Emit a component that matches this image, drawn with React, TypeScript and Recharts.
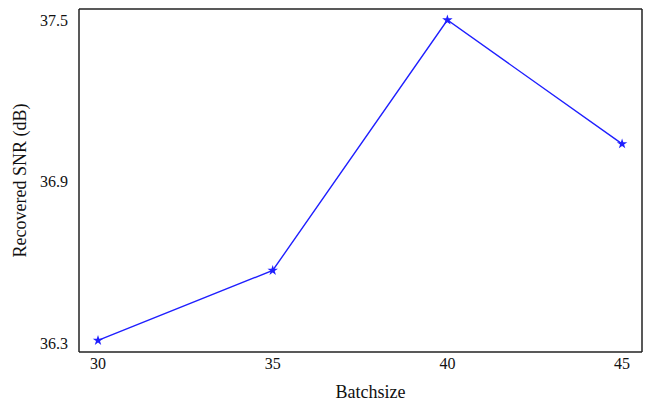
import { Line, LineChart, ReferenceLine, Symbols, XAxis, YAxis } from "recharts";

const batchSizes = [30, 35, 40, 45];
const snrValues = [36.31, 36.57, 37.5, 37.04];
const xTicks = [30, 35, 40, 45];
const yTicks = [36.3, 36.9, 37.5];

const data = batchSizes.map((b, i) => ({ batch: b, snr: snrValues[i] }));

const FONT = '"Liberation Serif", "Times New Roman", serif';
const BORDER = "#222";
const LINE = "#1f1fff";

const X_DOMAIN: [number, number] = [29.456, 45.57];
const Y_DOMAIN: [number, number] = [36.267, 37.541];

const textStyle = { fontFamily: FONT };

function StarDot(props: { cx?: number; cy?: number; index?: number }) {
  const { cx, cy, index } = props;
  if (cx == null || cy == null) return null;
  return <Symbols key={index} cx={cx} cy={cy} type="star" size={34} fill={LINE} stroke="none" />;
}

function XTick(props: { x?: number; y?: number; payload?: { value: number } }) {
  const { x = 0, y = 0, payload } = props;
  return (
    <text x={x} y={y} dy="0.75em" textAnchor="middle" style={textStyle} fontSize={16} fill="#111">
      {payload?.value}
    </text>
  );
}

function YTick(props: { x?: number; y?: number; payload?: { value: number } }) {
  const { x = 0, y = 0, payload } = props;
  return (
    <text x={x} y={y} textAnchor="end" dominantBaseline="central" style={textStyle} fontSize={16} fill="#111">
      {payload ? payload.value.toFixed(1) : ""}
    </text>
  );
}

function YTitle({ viewBox }: { viewBox?: { x: number; y: number; width: number; height: number } }) {
  if (!viewBox) return null;
  const x = 20;
  const y = viewBox.y + viewBox.height / 2;
  return (
    <text
      x={x}
      y={y}
      transform={`rotate(-90, ${x}, ${y})`}
      textAnchor="middle"
      dominantBaseline="central"
      style={textStyle}
      fontSize={18}
      fill="#111"
    >
      Recovered SNR (dB)
    </text>
  );
}

function XTitle({ viewBox }: { viewBox?: { x: number; y: number; width: number; height: number } }) {
  if (!viewBox) return null;
  return (
    <text
      x={viewBox.x + viewBox.width / 2 + 10}
      y={392}
      textAnchor="middle"
      dominantBaseline="central"
      style={textStyle}
      fontSize={18}
      fill="#111"
    >
      Batchsize
    </text>
  );
}

export default function App() {
  return (
    <div style={{ position: "absolute", top: 0, left: 0, background: "#fff", fontFamily: FONT }}>
      <LineChart width={646} height={404} data={data} margin={{ top: 9, right: 4, bottom: 0, left: 0 }}>
        <XAxis
          dataKey="batch"
          type="number"
          domain={X_DOMAIN}
          ticks={xTicks}
          allowDataOverflow
          height={52}
          tickLine={false}
          tickSize={0}
          tickMargin={5}
          axisLine={{ stroke: BORDER, strokeWidth: 1.5 }}
          tick={<XTick />}
          label={<XTitle />}
        />
        <YAxis
          type="number"
          domain={Y_DOMAIN}
          ticks={yTicks}
          allowDataOverflow
          width={79}
          tickLine={false}
          tickSize={0}
          tickMargin={11}
          axisLine={{ stroke: BORDER, strokeWidth: 1.5 }}
          tick={<YTick />}
          label={<YTitle />}
        />
        <ReferenceLine y={Y_DOMAIN[1]} stroke={BORDER} strokeWidth={1.5} ifOverflow="extendDomain" />
        <ReferenceLine x={X_DOMAIN[1]} stroke={BORDER} strokeWidth={1.5} ifOverflow="extendDomain" />
        <Line
          type="linear"
          dataKey="snr"
          stroke={LINE}
          strokeWidth={1.4}
          dot={<StarDot />}
          activeDot={false}
          isAnimationActive={false}
        />
      </LineChart>
    </div>
  );
}
